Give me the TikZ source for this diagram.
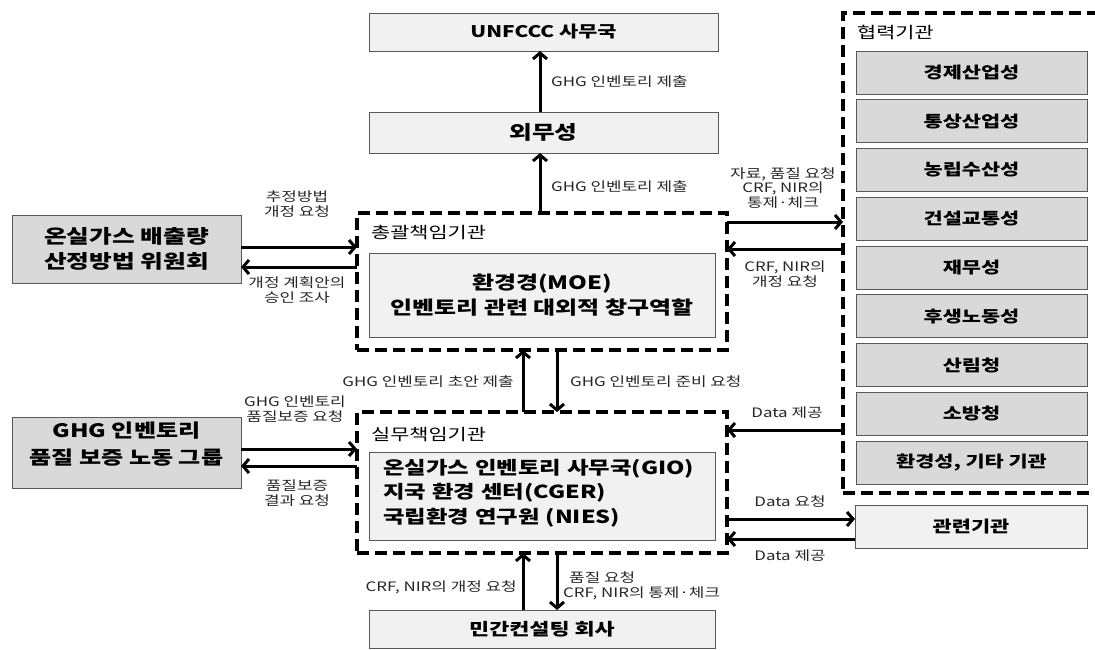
\documentclass[tikz,border=0pt]{standalone}
\usepackage{fontspec}
\setmainfont{Noto Sans CJK KR}[FakeStretch=1.3]
\usetikzlibrary{arrows.meta,calc}
\definecolor{boxdark}{HTML}{D9D9D9}
\definecolor{boxlight}{HTML}{F1F1F1}
\newcommand\fs[2]{\fontsize{#1}{#2}\selectfont}
\begin{document}
\begin{tikzpicture}[x=1pt,y=-1pt,
  box/.style={draw=black!65, line width=0.8pt, inner sep=0pt, outer sep=0pt, align=center, font=\bfseries\fs{16}{19}},
  dark/.style={box, fill=boxdark},
  light/.style={box, fill=boxlight},
  dbox/.style={draw=black, line width=3.3pt, dash pattern=on 12pt off 6pt, inner sep=0pt, outer sep=0pt},
  arr/.style={line width=3pt, -{Straight Barb[length=6pt,width=14pt]}},
  lab/.style={font=\fs{13}{14.5}, align=center, inner sep=0pt, text=black!85},
  sec/.style={font=\fs{16}{18}, inner sep=0pt, anchor=west}]
\useasboundingbox (0,0) rectangle (1095,650);

% top boxes
\node[light, minimum width=349pt, minimum height=38pt, font=\bfseries\fs{16}{18}] (unfccc) at (543.5,32) {UNFCCC 사무국};
\node[light, minimum width=349pt, minimum height=41pt, font=\bfseries\fs{19}{20}] (mofa) at (543.5,132.5) {외무성};

% 총괄책임기관
\node[dbox, minimum width=370pt, minimum height=137pt] (topd) at (542,281.5) {};
\node[light, minimum width=346pt, minimum height=84pt, font=\bfseries\fs{18.4}{25}] (moe) at (542,295) {환경경(MOE)\\인벤토리 관련 대외적 창구역할};
\node[sec] (l1) at (371,232) {총괄책임기관};

% 실무책임기관
\node[dbox, minimum width=370pt, minimum height=141pt] (botd) at (542,482.5) {};
\node[light, minimum width=346pt, minimum height=88pt, align=left, text width=318pt, font=\bfseries\fs{18}{24.5}] (gio) at (542,496) {온실가스 인벤토리 사무국(GIO)\\지국 환경 센터(CGER)\\국립환경 연구원 (NIES)\\[-14.5pt]\mbox{}};
\node[sec] (l2) at (371,435) {실무책임기관};

\node[light, minimum width=346pt, minimum height=38pt, font=\bfseries\fs{16.8}{19}] (priv) at (542,629) {민간컨설팅 회사};

% left boxes
\node[dark, minimum width=229pt, minimum height=68pt, font=\bfseries\fs{19}{25}] (cmte) at (126.5,249) {온실가스 배출량\\산정방법 위원회};
\node[dark, minimum width=229pt, minimum height=71pt, font=\bfseries\fs{18.5}{27}] (qa) at (126.5,452.5) {GHG 인벤토리\\품질 보증 노동 그룹\\[-9pt]\mbox{}};

% 협력기관
\node[dbox, minimum width=257pt, minimum height=480pt] (coop) at (971.5,253) {};
\node[sec] (l3) at (857,32) {협력기관};
\foreach \t [count=\i from 0] in {경제산업성,통상산업성,농립수산성,건설교통성,재무성,후생노동성,산림청,소방청,{환경성, 기타 기관}} {
  \node[dark, minimum width=231pt, minimum height=43pt] (c\i) at (971.5, 72.5+48.75*\i) {\t};
}
\node[light, minimum width=232pt, minimum height=43pt] (rel) at (971,526.5) {관련기관};

% arrows
\draw[arr] (mofa.north -| 540,0) -- (unfccc.south -| 540,0);
\draw[arr] (topd.north -| 540,0) -- (mofa.south -| 540,0);
\draw[arr] (cmte.east |- 0,247) -- (topd.west |- 0,247);
\draw[arr] (topd.west |- 0,267) -- (cmte.east |- 0,267);
\draw[arr] (topd.east |- 0,222) -- (coop.west |- 0,222);
\draw[arr] (coop.west |- 0,249) -- (topd.east |- 0,249);
\draw[arr] (botd.north -| 523,0) -- (topd.south -| 523,0);
\draw[arr] (topd.south -| 557,0) -- (botd.north -| 557,0);
\draw[arr] (qa.east |- 0,449) -- (botd.west |- 0,449);
\draw[arr] (botd.west |- 0,466) -- (qa.east |- 0,466);
\draw[arr] (coop.west |- 0,430) -- (botd.east |- 0,430);
\draw[arr] (botd.east |- 0,519) -- (rel.west |- 0,519);
\draw[arr] (rel.west |- 0,539) -- (botd.east |- 0,539);
\draw[arr] (priv.north -| 523,0) -- (botd.south -| 523,0);
\draw[arr] (botd.south -| 557,0) -- (priv.north -| 557,0);

% labels
\node[lab, anchor=west] (t1) at (551,82) {GHG 인벤토리 제출};
\node[lab, anchor=west] (t2) at (551,187) {GHG 인벤토리 제출};
\node[lab] (t3) at (297,204) {추정방법\\개정 요청};
\node[lab] (t4) at (297,290) {개정 계획안의\\승인 조사};
\node[lab] (t5) at (783,188) {자료, 품질 요청\\CRF, NIR의\\통제·체크};
\node[lab] (t6) at (785,274) {CRF, NIR의\\개정 요청};
\node[lab, anchor=east] (t7) at (514,382) {GHG 인벤토리 초안 제출};
\node[lab, anchor=west] (t8) at (570,382) {GHG 인벤토리 준비 요청};
\node[lab] (t9) at (295,409) {GHG 인벤토리\\품질보증 요청};
\node[lab] (t10) at (297,493) {품질보증\\결과 요청};
\node[lab] (t11) at (787,413) {Data 제공};
\node[lab] (t12) at (790,502) {Data 요청};
\node[lab] (t13) at (790,556) {Data 제공};
\node[lab, anchor=east] (t14) at (517,587) {CRF, NIR의 개정 요청};
\node[lab, anchor=west, align=left] (t15) at (563,586) {\hspace*{6pt}품질 요청\\CRF, NIR의 통제·체크};
\end{tikzpicture}
\end{document}
